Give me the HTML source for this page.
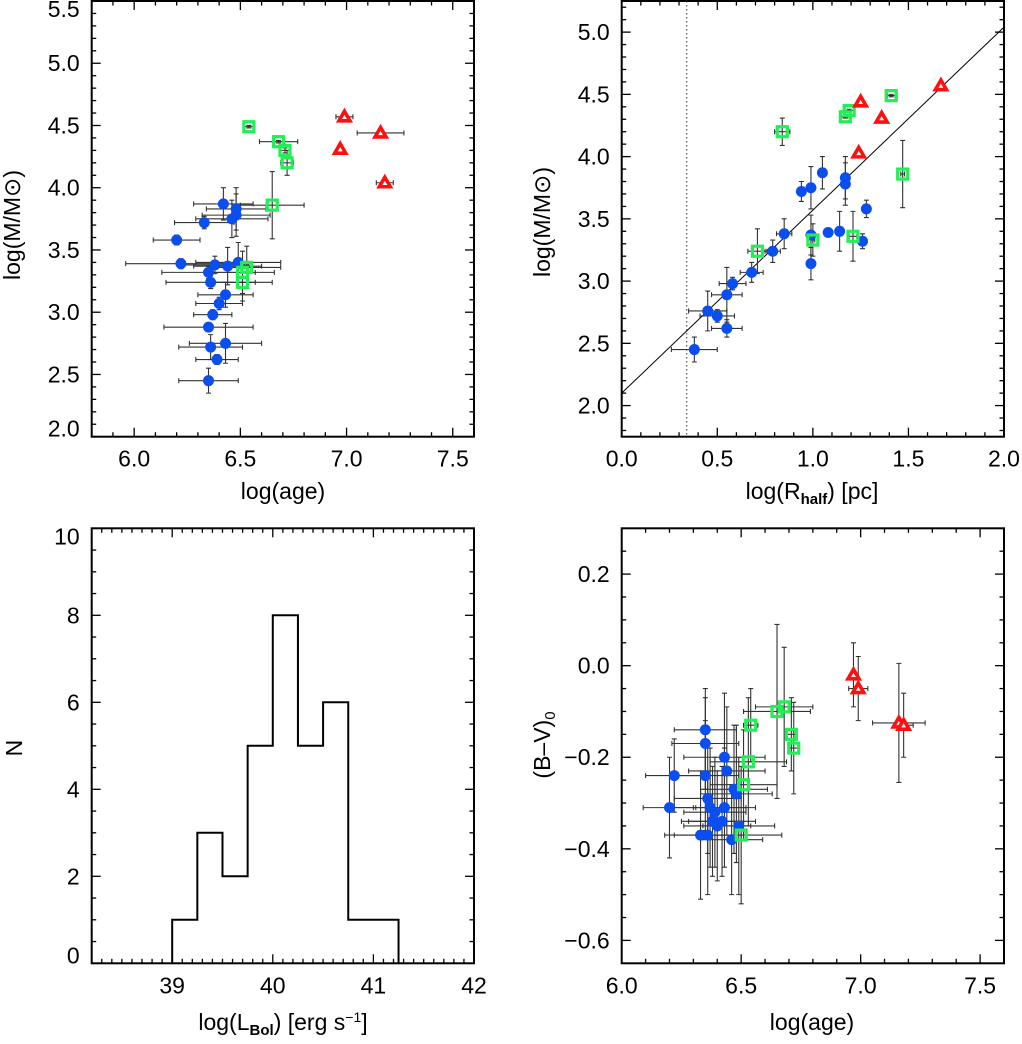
<!DOCTYPE html>
<html><head><meta charset="utf-8"><style>
body{margin:0;background:#fff;}
svg text{font-family:"Liberation Sans",sans-serif;fill:#000;}
</style></head><body>
<svg id="s" width="1022" height="1039" viewBox="0 0 1022 1039" xmlns="http://www.w3.org/2000/svg"></svg>
<script>
// ---- data: top-left (mass vs age)
const tlBlueX=[6.42,6.48,6.48,6.46,6.33,6.20,6.22,6.38,6.44,6.49,6.35,6.36,6.43,6.40,6.37,6.35,6.43,6.36,6.39,6.35];
const tlBlueY=[3.87,3.83,3.78,3.75,3.72,3.58,3.39,3.38,3.37,3.40,3.32,3.24,3.14,3.07,2.98,2.88,2.75,2.72,2.62,2.45];
const tlBlueXE=[0.14,0.14,0.16,0.17,0.14,0.11,0.26,0.16,0.16,0.2,0.22,0.21,0.13,0.11,0.09,0.21,0.17,0.15,0.10,0.14];
const tlBlueYE=[0.13,0.17,0.17,0.15,0.05,0.04,0.04,0.07,0.15,0.16,0.05,0.05,0.10,0.05,0.04,0.03,0.16,0.10,0.04,0.10];
const tlGreenX=[6.54,6.68,6.71,6.72,6.65,6.53,6.51,6.51];
const tlGreenY=[4.49,4.37,4.30,4.20,3.86,3.36,3.32,3.24];
const tlGreenXE=[0.02,0.09,0.02,0.03,0.15,0.16,0.15,0.14];
const tlGreenYE=[0.01,0.01,0.02,0.10,0.27,0.17,0.17,0.15];
const tlRedX=[6.99,7.16,6.97,7.18];
const tlRedY=[4.57,4.44,4.31,4.04];
const tlRedXE=[0.04,0.11,0.01,0.04];
const tlRedYE=[0.01,0.03,0.01,0.01];
// ---- top-right (mass vs radius)
const trBlueX=[0.38,0.45,0.50,0.55,0.55,0.58,0.68,0.79,0.85,0.94,0.99,1.05,1.17,1.17,0.99,0.99,1.08,1.14,1.26,1.28];
const trBlueY=[2.45,2.76,2.72,2.62,2.89,2.98,3.07,3.24,3.38,3.72,3.75,3.87,3.83,3.78,3.37,3.14,3.39,3.40,3.32,3.58];
const trBlueXE=[0.12,0.10,0.09,0.08,0.08,0.07,0.06,0.04,0.04,0.02,0.02,0.01,0.01,0.01,0.01,0.01,0.02,0.01,0.01,0.01];
const trBlueYE=[0.10,0.16,0.05,0.07,0.22,0.05,0.08,0.09,0.12,0.08,0.17,0.13,0.17,0.17,0.16,0.13,0.02,0.16,0.06,0.07];
const trGreenX=[0.84,0.71,1.00,1.21,1.17,1.19,1.41,1.47];
const trGreenY=[4.20,3.24,3.33,3.36,4.32,4.37,4.49,3.86];
const trGreenXE=[0.04,0.05,0.01,0.02,0.02,0.03,0.02,0.01];
const trGreenYE=[0.11,0.18,0.13,0.20,0.01,0.01,0.01,0.27];
const trRedX=[1.67,1.25,1.36,1.24];
const trRedY=[4.57,4.44,4.31,4.03];
const fitIntercept=2.10, fitSlope=1.47, resolutionLimit=0.34;
// ---- bottom-left histogram
const binEdges=[39.0,39.25,39.5,39.75,40.0,40.25,40.5,40.75,41.0,41.25];
const binCounts=[1,3,2,5,8,5,6,1,1];
// ---- bottom-right (colour vs age)
const brBlueX=[6.35,6.35,6.43,6.44,6.35,6.22,6.20,6.36,6.37,6.39,6.43,6.47,6.48,6.38,6.40,6.42,6.49,6.36,6.33,6.46];
const brBlueY=[-0.14,-0.17,-0.20,-0.23,-0.24,-0.24,-0.31,-0.29,-0.31,-0.32,-0.31,-0.27,-0.28,-0.34,-0.35,-0.34,-0.35,-0.37,-0.37,-0.38];
const brBlueXE=[0.13,0.14,0.17,0.16,0.14,0.12,0.11,0.14,0.15,0.13,0.13,0.14,0.15,0.13,0.14,0.14,0.15,0.14,0.15,0.13];
const brBlueYE=[0.09,0.10,0.14,0.14,0.12,0.08,0.11,0.12,0.13,0.12,0.13,0.14,0.15,0.12,0.12,0.12,0.15,0.13,0.14,0.12];
const brGreenX=[6.54,6.53,6.51,6.50,6.65,6.68,6.71,6.72];
const brGreenY=[-0.13,-0.21,-0.26,-0.37,-0.10,-0.09,-0.15,-0.18];
const brGreenXE=[0.03,0.16,0.14,0.17,0.14,0.12,0.02,0.02];
const brGreenYE=[0.08,0.14,0.12,0.15,0.19,0.13,0.08,0.10];
const brRedX=[6.97,6.99,7.16,7.18];
const brRedY=[-0.02,-0.05,-0.125,-0.13];
const brRedXE=[0.01,0.04,0.11,0.04];
const brRedYE=[0.07,0.07,0.13,0.07];

const NS="http://www.w3.org/2000/svg", svg=document.getElementById('s');
function mk(tag,attrs,parent){const e=document.createElementNS(NS,tag);for(const k in attrs)e.setAttribute(k,attrs[k]);(parent||svg).appendChild(e);return e;}
function panel(name,L,R,T,B,x0,x1,y0,y1){
  const g=mk('g',{});
  
  
  return {g,L,R,T,B,sx:v=>L+(v-x0)/(x1-x0)*(R-L),sy:v=>B-(v-y0)/(y1-y0)*(B-T),x0,x1,y0,y1};
}
function axes(p,xMaj,xMin,yMaj,yMin,xfmt,yfmt,xlab0,ylab0){
  const g=mk('g',{},p.g);
  
  
  const e=1e-6;
  for(let v=Math.ceil(p.x0/xMin-e)*xMin;v<=p.x1+e;v+=xMin){
    const x=p.sx(v),maj=Math.abs(v/xMaj-Math.round(v/xMaj))<1e-4,l=maj?9:4.5;
    mk('line',{x1:x,x2:x,y1:p.B,y2:p.B-l,stroke:'#000','stroke-width':1.3},g);
    mk('line',{x1:x,x2:x,y1:p.T,y2:p.T+l,stroke:'#000','stroke-width':1.3},g);
    if(maj&&v>=xlab0-e){const t=mk('text',{x:x,y:p.B+30,'font-size':23,'text-anchor':'middle'},g);t.textContent=xfmt(v);
      
      }
  }
  for(let v=Math.ceil(p.y0/yMin-e)*yMin;v<=p.y1+e;v+=yMin){
    const y=p.sy(v),maj=Math.abs(v/yMaj-Math.round(v/yMaj))<1e-4,l=maj?9:4.5;
    mk('line',{y1:y,y2:y,x1:p.L,x2:p.L+l,stroke:'#000','stroke-width':1.3},g);
    mk('line',{y1:y,y2:y,x1:p.R,x2:p.R-l,stroke:'#000','stroke-width':1.3},g);
    if(maj&&v>=ylab0-e){let ty=Math.max(p.T+8,Math.min(p.B-8,y));const t=mk('text',{x:p.L-12,y:ty+8,'font-size':23,'text-anchor':'end'},g);t.textContent=yfmt(v);
      
      }
  }
  const r=mk('rect',{x:p.L,y:p.T,width:p.R-p.L,height:p.B-p.T,fill:'none',stroke:'#000','stroke-width':2},g);
  
  
}
function errs(p,X,Y,XE,YE,name){
  const g=mk('g',{},p.g);
  
  
  for(let i=0;i<X.length;i++){
    const x=p.sx(X[i]),y=p.sy(Y[i]);
    if(XE&&XE[i]){const a=p.sx(X[i]-XE[i]),b=p.sx(X[i]+XE[i]);
      mk('path',{d:`M${a},${y}H${b}M${a},${y-2.5}v5M${b},${y-2.5}v5`,stroke:'#333','stroke-width':1.1,fill:'none'},g);}
    if(YE&&YE[i]){const a=p.sy(Y[i]-YE[i]),b=p.sy(Y[i]+YE[i]);
      mk('path',{d:`M${x},${a}V${b}M${x-2.5},${a}h5M${x-2.5},${b}h5`,stroke:'#333','stroke-width':1.1,fill:'none'},g);}
  }
}
function pts(p,X,Y,type,name){
  const g=mk('g',{},p.g);
  
  
  for(let i=0;i<X.length;i++){
    const x=p.sx(X[i]),y=p.sy(Y[i]);let m;
    if(type==='c')m=mk('circle',{cx:x,cy:y,r:5.5,fill:'#0a4ef0'},g);
    else if(type==='s')m=mk('rect',{x:x-5,y:y-5,width:10,height:10,fill:'none',stroke:'#22ee55','stroke-width':3.2},g);
    else m=mk('path',{d:`M${x},${y-5.5}L${x+5.5},${y+4}L${x-5.5},${y+4}Z`,fill:'#fff',stroke:'#ff1010','stroke-width':3.6,'stroke-linejoin':'miter'},g);
    
    
  }
}
function label(txt,x,y,rot,name,html){
  const t=mk('text',{x:x,y:y,'font-size':23,'text-anchor':'middle'});
  if(rot)t.setAttribute('transform',`rotate(-90 ${x} ${y})`);
  if(html)t.innerHTML=html;else t.textContent=txt;
  
  
}
const f1=v=>v.toFixed(1);
// TL
let p=panel('mass-age-panel',91.7,474,1,436.7,5.8,7.6,2.0,5.5);
axes(p,0.5,0.1,0.5,0.1,f1,f1,6.0,2.0);
errs(p,tlBlueX,tlBlueY,tlBlueXE,tlBlueYE,'blue-errors');errs(p,tlGreenX,tlGreenY,tlGreenXE,tlGreenYE,'green-errors');errs(p,tlRedX,tlRedY,tlRedXE,tlRedYE,'red-errors');
pts(p,tlBlueX,tlBlueY,'c','blue-series');pts(p,tlGreenX,tlGreenY,'s','green-series');pts(p,tlRedX,tlRedY,'t','red-series');
// TR
p=panel('mass-radius-panel',621.7,1004,1,436.7,0,2,1.75,5.25);
{const g=mk('line',{x1:p.sx(resolutionLimit),x2:p.sx(resolutionLimit),y1:p.T,y2:p.B,stroke:'#555','stroke-width':1.2,'stroke-dasharray':'1.5,2.5'},p.g);
 
 
 const f=mk('line',{x1:p.sx(0),y1:p.sy(fitIntercept),x2:p.sx(2),y2:p.sy(fitIntercept+2*fitSlope),stroke:'#000','stroke-width':1},p.g);
 
 }
axes(p,0.5,0.1,0.5,0.1,f1,f1,0,2.0);
errs(p,trBlueX,trBlueY,trBlueXE,trBlueYE,'blue-errors');errs(p,trGreenX,trGreenY,trGreenXE,trGreenYE,'green-errors');
pts(p,trBlueX,trBlueY,'c','blue-series');pts(p,trGreenX,trGreenY,'s','green-series');pts(p,trRedX,trRedY,'t','red-series');
// BL
p=panel('luminosity-histogram-panel',91.7,474,528.3,963.3,38.2,42,0,10);
axes(p,1,0.1,2,0.5,v=>v.toFixed(0),v=>v.toFixed(0),39,0);
{let d=`M${p.sx(binEdges[0])},${p.sy(0)}`;
 for(let i=0;i<binCounts.length;i++){d+=`V${p.sy(binCounts[i])}H${p.sx(binEdges[i+1])}`;}
 d+=`V${p.sy(0)}`;
 const h=mk('path',{d:d,fill:'none',stroke:'#000','stroke-width':2},p.g);
 
 }
// BR
p=panel('colour-age-panel',621.7,1004,528.3,963.3,6.0,7.6,-0.65,0.30);
axes(p,0.5,0.1,0.2,0.05,f1,v=>(Math.abs(v)<1e-6?'0.0':v.toFixed(1)).replace('-','\u2212'),6.0,-0.6);
errs(p,brBlueX,brBlueY,brBlueXE,brBlueYE,'blue-errors');errs(p,brGreenX,brGreenY,brGreenXE,brGreenYE,'green-errors');errs(p,brRedX,brRedY,brRedXE,brRedYE,'red-errors');
pts(p,brBlueX,brBlueY,'c','blue-series');pts(p,brGreenX,brGreenY,'s','green-series');pts(p,brRedX,brRedY,'t','red-series');
// titles
label('',20,225,true,'y-axis-title-mass','log(M/M<tspan>\u2299</tspan>)');
label('log(age)',283,499,false,'x-axis-title-age');
label('',550,222,true,'y-axis-title-mass-2','log(M/M<tspan>\u2299</tspan>)');
label('',812,499,false,'x-axis-title-radius','log(R<tspan font-size="15" dy="5" font-weight="bold">half</tspan><tspan dy="-5">) [pc]</tspan>');
label('N',22,748,true,'y-axis-title-n');
label('',283,1030,false,'x-axis-title-luminosity','log(L<tspan font-size="15" dy="5" font-weight="bold">Bol</tspan><tspan dy="-5">) [erg s</tspan><tspan font-size="14" dy="-8">\u22121</tspan><tspan dy="8">]</tspan>');
label('',550,745,true,'y-axis-title-colour','(B\u2013V)<tspan font-size="15" dy="5">0</tspan>');
label('log(age)',812,1030,false,'x-axis-title-age-2');
</script>
</body></html>
